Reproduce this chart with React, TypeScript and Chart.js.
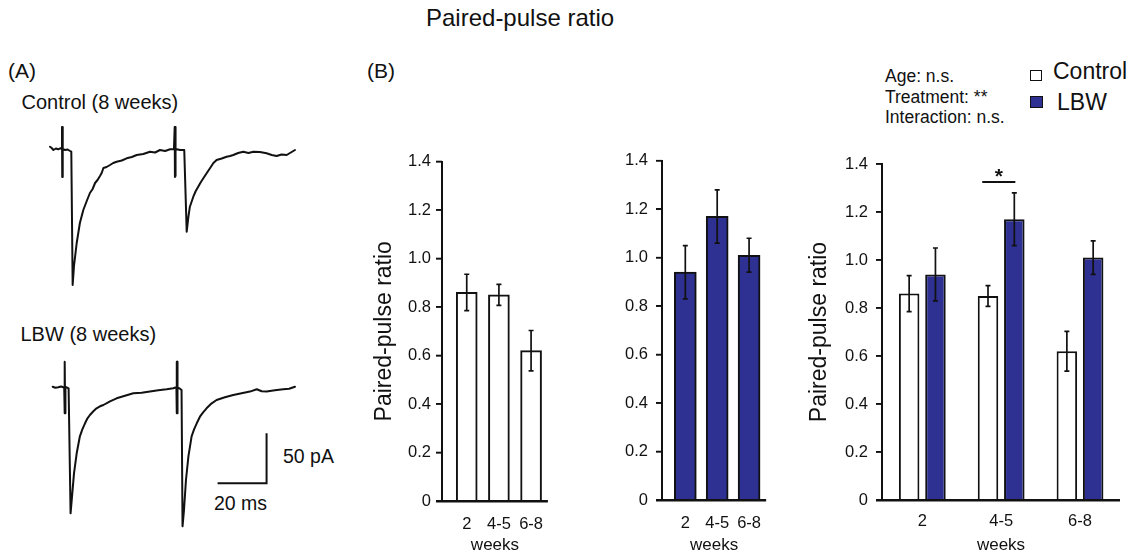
import React, { useEffect, useRef } from 'react';
import { Chart, registerables } from 'chart.js';

Chart.register(...registerables);

const FONT = '"Liberation Sans", Arial, Helvetica, sans-serif';
const INK = '#111111';
const LBW_BLUE = '#2E3192';

// ---------- data ----------
const weekLabels = ['2', '4-5', '6-8'];
const controlPPR = [0.86, 0.85, 0.62];
const controlSEM = [0.075, 0.043, 0.083];
const lbwPPR = [0.94, 1.17, 1.01];
const lbwSEM = [0.11, 0.11, 0.07];
const yTicks = [0, 0.2, 0.4, 0.6, 0.8, 1.0, 1.2, 1.4];

// significance bracket (x in category units, y in ratio units)
const sigFrom = 1.76;
const sigTo = 2.18;
const sigLevel = 1.325;

// example traces (time in ms, current in pA)
const controlTraceMs = [0, 0.7, 1.4, 2.4, 3.4, 4.3, 4.8, 4.9, 5.0, 5.1, 5.2, 5.3, 6.1, 7.2, 8.2, 8.7, 9.25, 9.8, 10.9, 12.2, 13.6, 15.0, 16.3, 17.4, 18.4, 19.4, 20.4, 21.1, 21.8, 23.1, 24.5, 25.8, 27.2, 29.3, 31.3, 33.4, 35.4, 38.1, 40.8, 42.9, 44.9, 47.0, 49.0, 50.6, 50.9, 51.0, 51.1, 51.2, 51.3, 53.1, 54.8, 55.8, 56.5, 57.1, 58.5, 59.5, 60.5, 61.6, 62.6, 64.0, 65.3, 66.7, 68.0, 70.1, 72.1, 73.5, 74.8, 76.8, 78.9, 81.0, 83.0, 85.7, 88.4, 90.5, 92.5, 94.5, 96.6, 98.3, 100];
const controlTracePA = [2.3, 1, -1, 0.5, -0.3, 0.8, 0, 22, -28, 22, -27, 0, -1, -0.5, -2, -2.7, -136, -117, -94, -74, -61, -52, -44, -40, -34, -31, -27, -24, -19, -18, -16, -14, -12.7, -11.5, -9.3, -8, -6, -5, -2.7, -3.5, -1, -2, -0.3, 0, 22, -28, 22, -27, 0, -1, -1, -82.7, -67.7, -57.7, -47.7, -42, -37.7, -33, -29.3, -24, -19.3, -14, -11, -9.5, -7.7, -7, -6, -4, -2.7, -4, -2.7, -3, -4.3, -6, -7, -5.5, -6, -3.5, -1];
const lbwTraceMs = [1.1, 2.2, 3.4, 4.5, 5.4, 5.8, 5.9, 6.0, 6.1, 6.2, 6.3, 6.8, 7.6, 8.4, 9.0, 9.8, 10.9, 12.2, 13.2, 14.3, 15.3, 16.3, 17.7, 19.0, 20.4, 21.8, 24.5, 27.2, 30.6, 34.0, 37.4, 40.8, 44.2, 47.6, 50.3, 51.6, 51.7, 51.8, 51.9, 52.0, 52.1, 52.8, 53.7, 54.1, 54.7, 55.5, 56.5, 57.8, 58.8, 59.9, 61.2, 62.5, 63.9, 66.0, 68.0, 71.4, 74.8, 78.2, 81.6, 84.4, 86.4, 88.4, 91.8, 95.2, 97.6, 100];
const lbwTracePA = [0.6, -0.5, 0, 0.8, 0, 0, 25.6, -26, 25.6, -26, 0, 0, -1, -126, -109, -86, -66, -49, -42, -36, -31, -27.7, -24, -21, -19, -17.7, -14, -11, -8.5, -6, -5.5, -4.3, -3, -2, -1, 0, 25.6, -26, 25.6, -26, 0, -1, -2.7, -139, -122.7, -92.7, -69, -49, -42, -36, -29.4, -25, -21, -16, -12.7, -10, -7.7, -6, -4.3, -2, -4, -4.3, -3, -2, -1.5, 0.6];

// scale bar (data units)
const scaleBarMs = 20;
const scaleBarPA = 50;
const scaleBarCornerMs = 88.4;
const scaleBarCornerPA = -96;

// ---------- plugins ----------
// baseline axis line + outward ticks on the value axis (top layer)
const axisPlugin = {
  id: 'axisDecor',
  afterDraw(chart: any) {
    const ctx = chart.ctx;
    const yScale = chart.scales.y;
    const area = chart.chartArea;
    const y0 = yScale.getPixelForValue(0);
    ctx.save();
    ctx.fillStyle = INK;
    ctx.fillRect(area.left - 6, y0 - 1, area.right - area.left + 6, 2.5);
    yTicks.forEach((v) => {
      const p = yScale.getPixelForValue(v);
      ctx.fillRect(area.left - 6, p - 0.8, 6, 1.6);
    });
    ctx.restore();
  },
};

const errorBarPlugin = {
  id: 'errorBars',
  afterDatasetsDraw(chart: any) {
    const ctx = chart.ctx;
    const yScale = chart.scales.y;
    chart.data.datasets.forEach((ds: any, di: number) => {
      const errs = ds.errors;
      if (!errs) return;
      const meta = chart.getDatasetMeta(di);
      meta.data.forEach((bar: any, i: number) => {
        const v = ds.data[i].y;
        const x = bar.x;
        const yTop = yScale.getPixelForValue(v + errs[i]);
        const yBot = yScale.getPixelForValue(v - errs[i]);
        ctx.save();
        ctx.strokeStyle = INK;
        ctx.lineWidth = 1.7;
        ctx.beginPath();
        ctx.moveTo(x, yTop);
        ctx.lineTo(x, yBot);
        ctx.moveTo(x - 2.5, yTop);
        ctx.lineTo(x + 2.5, yTop);
        ctx.moveTo(x - 2.5, yBot);
        ctx.lineTo(x + 2.5, yBot);
        ctx.stroke();
        ctx.restore();
      });
    });
  },
};

const sigPlugin = {
  id: 'sigBracket',
  afterDatasetsDraw(chart: any) {
    const ctx = chart.ctx;
    const xs = chart.scales.x;
    const ys = chart.scales.y;
    const x1 = xs.getPixelForValue(sigFrom);
    const x2 = xs.getPixelForValue(sigTo);
    const y = ys.getPixelForValue(sigLevel);
    ctx.save();
    ctx.strokeStyle = INK;
    ctx.lineWidth = 2;
    ctx.beginPath();
    ctx.moveTo(x1, y);
    ctx.lineTo(x2, y);
    ctx.stroke();
    ctx.fillStyle = INK;
    ctx.font = `bold 21px ${FONT}`;
    ctx.textAlign = 'center';
    ctx.textBaseline = 'alphabetic';
    ctx.fillText('*', (x1 + x2) / 2, y + 1);
    ctx.restore();
  },
};

// ---------- config builders ----------
function barConfig(o: any) {
  return {
    type: 'bar',
    data: { datasets: o.datasets },
    options: {
      animation: false,
      responsive: false,
      devicePixelRatio: 1,
      layout: { padding: { top: o.padTop, left: 0, right: 0, bottom: 0 } },
      plugins: { legend: { display: false }, tooltip: { enabled: false }, title: { display: false } },
      scales: {
        x: {
          type: 'linear',
          position: 'bottom',
          offset: false,
          min: o.xMin,
          max: o.xMax,
          afterBuildTicks: (s: any) => {
            s.ticks = weekLabels.map((_, i) => ({ value: i + 1 }));
          },
          afterFit: (s: any) => {
            s.height = o.xAxisHeight;
          },
          ticks: {
            font: { family: FONT, size: 16.5 },
            color: INK,
            padding: o.xTickPad,
            maxRotation: 0,
            autoSkip: false,
            callback: (v: any) => weekLabels[Math.round(Number(v)) - 1] ?? '',
          },
          grid: { display: false },
          border: { display: false },
          title: {
            display: true,
            text: 'weeks',
            font: { family: FONT, size: 17, lineHeight: 1 },
            color: INK,
            padding: { top: 0, bottom: 0 },
          },
        },
        y: {
          min: 0,
          max: 1.4,
          afterBuildTicks: (s: any) => {
            s.ticks = yTicks.map((v) => ({ value: v }));
          },
          afterFit: (s: any) => {
            s.width = o.yAxisWidth;
          },
          ticks: {
            font: { family: FONT, size: 16.5 },
            color: INK,
            padding: o.yTickPad,
            callback: (v: any) => (Number(v) === 0 ? '0' : Number(v).toFixed(1)),
          },
          grid: { display: true, drawOnChartArea: false, drawTicks: true, tickLength: 6, color: INK, lineWidth: 1.5 },
          border: { display: true, color: INK, width: 2 },
          title: {
            display: o.showYTitle,
            text: 'Paired-pulse ratio',
            font: { family: FONT, size: 23, lineHeight: 1 },
            color: INK,
            padding: { top: 13.5, bottom: 0 },
          },
        },
      },
    },
    plugins: [errorBarPlugin, axisPlugin, ...(o.extraPlugins || [])],
  };
}

function traceConfig(datasets: any[], yMin: number, yMax: number) {
  return {
    type: 'line',
    data: { datasets },
    options: {
      animation: false,
      responsive: false,
      devicePixelRatio: 1,
      layout: { padding: 0 },
      plugins: { legend: { display: false }, tooltip: { enabled: false } },
      scales: {
        x: { type: 'linear', display: false, min: -10.2, max: 109.8 },
        y: { type: 'linear', display: false, min: yMin, max: yMax },
      },
    },
  };
}

function traceDataset(ms: number[], pa: number[]) {
  return {
    data: ms.map((t, i) => ({ x: t, y: pa[i] })),
    borderColor: INK,
    borderWidth: 2,
    pointRadius: 0,
    tension: 0,
    fill: false,
    borderJoinStyle: 'round',
    borderCapStyle: 'round',
    clip: false,
  };
}

function controlBars(thickness?: number) {
  const d: any = {
    label: 'Control',
    data: controlPPR.map((y, i) => ({ x: i + 1, y })),
    backgroundColor: '#ffffff',
    borderColor: INK,
    borderWidth: 2,
    errors: controlSEM,
  };
  if (thickness) d.barThickness = thickness;
  else {
    d.categoryPercentage = 0.667;
    d.barPercentage = 0.78;
  }
  return d;
}

function lbwBars(thickness?: number) {
  const d: any = {
    label: 'LBW',
    data: lbwPPR.map((y, i) => ({ x: i + 1, y })),
    backgroundColor: LBW_BLUE,
    borderColor: INK,
    borderWidth: 2,
    errors: lbwSEM,
  };
  if (thickness) d.barThickness = thickness;
  else {
    d.categoryPercentage = 0.667;
    d.barPercentage = 0.78;
  }
  return d;
}

// ---------- components ----------
function ChartBox({ left, top, width, height, make }: any) {
  const ref = useRef<HTMLCanvasElement | null>(null);
  useEffect(() => {
    const chart = new Chart(ref.current as HTMLCanvasElement, make());
    return () => chart.destroy();
  }, []);
  return (
    <canvas
      ref={ref}
      width={width}
      height={height}
      style={{ position: 'absolute', left, top, width, height, display: 'block' }}
    />
  );
}

function Label({ left, top, size, children, weight }: any) {
  return (
    <div
      style={{
        position: 'absolute',
        left,
        top,
        fontFamily: FONT,
        fontSize: size,
        lineHeight: 1,
        whiteSpace: 'nowrap',
        color: INK,
        fontWeight: weight || 'normal',
      }}
    >
      {children}
    </div>
  );
}

export default function App() {
  return (
    <div
      style={{
        position: 'absolute',
        left: 0,
        top: 0,
        width: 1132,
        height: 554,
        background: '#ffffff',
        overflow: 'hidden',
      }}
    >
      <Label left={426} top={5.5} size={24}>Paired-pulse ratio</Label>

      {/* Panel A */}
      <Label left={8} top={59.5} size={21}>(A)</Label>
      <Label left={21.5} top={91.5} size={20}>Control (8 weeks)</Label>
      <Label left={20.5} top={324} size={20}>LBW (8 weeks)</Label>
      <Label left={283} top={447} size={19.5}>50 pA</Label>
      <Label left={214} top={493.5} size={19.5}>20 ms</Label>

      <ChartBox
        left={25}
        top={110}
        width={294}
        height={190}
        make={() => traceConfig([traceDataset(controlTraceMs, controlTracePA)], -151, 39)}
      />
      <ChartBox
        left={25}
        top={345}
        width={294}
        height={195}
        make={() =>
          traceConfig(
            [
              traceDataset(lbwTraceMs, lbwTracePA),
              {
                data: [
                  { x: scaleBarCornerMs - scaleBarMs, y: scaleBarCornerPA },
                  { x: scaleBarCornerMs, y: scaleBarCornerPA },
                  { x: scaleBarCornerMs, y: scaleBarCornerPA + scaleBarPA },
                ],
                borderColor: INK,
                borderWidth: 2,
                pointRadius: 0,
                tension: 0,
                fill: false,
                borderJoinStyle: 'miter',
              },
            ],
            -152.7,
            42.3
          )
        }
      />

      {/* Panel B */}
      <Label left={367} top={59.5} size={21}>(B)</Label>

      <Label left={885} top={68} size={17.5}>Age: n.s.</Label>
      <Label left={885} top={88.5} size={17.5}>Treatment: **</Label>
      <Label left={885} top={109} size={17.5}>Interaction: n.s.</Label>

      <div
        style={{
          position: 'absolute',
          left: 1030,
          top: 70,
          width: 12,
          height: 11,
          boxSizing: 'border-box',
          border: '1.5px solid #111',
          background: '#fff',
        }}
      />
      <div
        style={{
          position: 'absolute',
          left: 1030,
          top: 96,
          width: 13,
          height: 12,
          boxSizing: 'border-box',
          border: '1.5px solid #111',
          background: LBW_BLUE,
        }}
      />
      <Label left={1053} top={59.5} size={23}>Control</Label>
      <Label left={1057} top={90.5} size={23}>LBW</Label>

      <ChartBox
        left={360}
        top={140}
        width={189}
        height={414}
        make={() =>
          barConfig({
            datasets: [controlBars(21)],
            xMin: 0.231,
            xMax: 3.523,
            yAxisWidth: 82,
            padTop: 21.5,
            xAxisHeight: 53,
            xTickPad: 6,
            yTickPad: 5,
            showYTitle: true,
          })
        }
      />
      <ChartBox
        left={600}
        top={140}
        width={167}
        height={414}
        make={() =>
          barConfig({
            datasets: [lbwBars(22)],
            xMin: 0.269,
            xMax: 3.535,
            yAxisWidth: 62,
            padTop: 20.7,
            xAxisHeight: 54,
            xTickPad: 6,
            yTickPad: 8,
            showYTitle: false,
          })
        }
      />
      <ChartBox
        left={795}
        top={140}
        width={325}
        height={414}
        make={() =>
          barConfig({
            datasets: [controlBars(), lbwBars()],
            xMin: 0.489,
            xMax: 3.507,
            yAxisWidth: 87,
            padTop: 24,
            xAxisHeight: 54,
            xTickPad: 4,
            yTickPad: 8,
            showYTitle: true,
            extraPlugins: [sigPlugin],
          })
        }
      />
    </div>
  );
}
